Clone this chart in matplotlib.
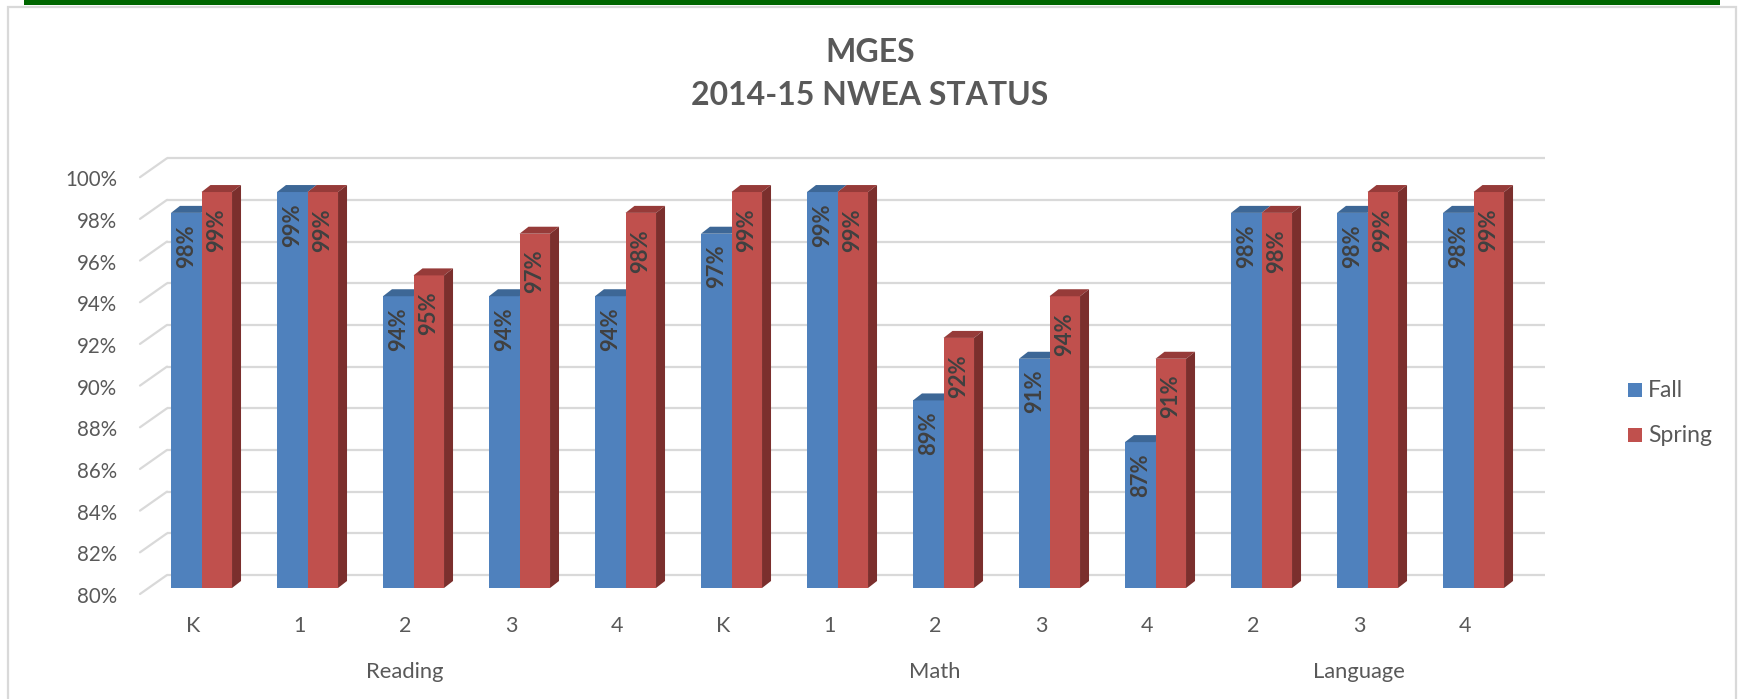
import matplotlib
matplotlib.use("Agg")
import matplotlib.pyplot as plt
from matplotlib import transforms
from matplotlib.patches import Rectangle, Polygon, ConnectionPatch

# ---------------- data ----------------
categories = ["K", "1", "2", "3", "4", "K", "1", "2", "3", "4", "2", "3", "4"]
groups = ["Reading", "Math", "Language"]
group_sizes = [5, 5, 3]
series_names = ["Fall", "Spring"]
fall = [98, 99, 94, 94, 94, 97, 99, 89, 91, 87, 98, 98, 98]
spring = [99, 99, 95, 97, 98, 99, 99, 92, 94, 91, 98, 99, 99]
yticks = [80, 82, 84, 86, 88, 90, 92, 94, 96, 98, 100]
ytick_labels = [f"{v}%" for v in yticks]
title_lines = ["MGES", "2014-15 NWEA STATUS"]

# ---------------- style ----------------
W, H, DPI = 1741, 699, 100
plt.rcParams["font.family"] = ["Lato", "DejaVu Sans"]
TXT = "#595959"
GRID = "#D9D9D9"
front_col = ["#4F81BD", "#C0504D"]
top_col = ["#3D6796", "#963B39"]
side_col = ["#30527A", "#7B2F2D"]

fig = plt.figure(figsize=(W / DPI, H / DPI), dpi=DPI)
fig.patch.set_facecolor("white")

def fy(ytop):
    return (H - ytop) / H

fig.add_artist(Rectangle((24 / W, fy(5)), (1720 - 24) / W, 5 / H,
                         transform=fig.transFigure, facecolor="#006600",
                         edgecolor="none", zorder=0))
fig.add_artist(Rectangle((8 / W, fy(710)), (1736 - 8) / W, (710 - 7) / H,
                         transform=fig.transFigure, facecolor="none",
                         edgecolor=GRID, lw=1.6, zorder=0))

# bar plane axes
ax = fig.add_axes([148.5 / W, fy(588), (1526.5 - 148.5) / W, (588 - 171.2) / H])
ax.set_xlim(-0.5, len(categories) - 0.5)
ax.set_ylim(80, 100)
ax.axis("off")

def shift(dx, dy):
    return transforms.ScaledTranslation(dx / DPI, dy / DPI, fig.dpi_scale_trans)

back = ax.transData + shift(18.5, 13)
front = ax.transData + shift(-8.5, -6)

# back wall gridlines + left wall diagonals
x_left, x_right = -0.5, len(categories) - 0.5
for v in yticks:
    ax.plot([x_left, x_right], [v, v], transform=back, color=GRID, lw=1.6,
            clip_on=False, zorder=1, solid_capstyle="butt")
    cp = ConnectionPatch(xyA=(x_left, v), coordsA=front, xyB=(x_left, v),
                         coordsB=back, color=GRID, lw=1.6, zorder=1)
    ax.add_artist(cp)

# y tick labels (front-left edge)
ylab_tr = ax.transData + shift(-8.5 - 23, -6 - 9)
for v, lab in zip(yticks, ytick_labels):
    ax.text(x_left, v, lab, transform=ylab_tr, ha="right", va="baseline",
            fontsize=14.8, color=TXT, clip_on=False)

# bars
x = list(range(len(categories)))
bw = 0.288
DX, DY = 9, 7
series = [fall, spring]
offsets = [-bw, 0.0]
label_gap = [11, 16]
ident = transforms.IdentityTransform()
for s, vals in enumerate(series):
    xs = [xi + offsets[s] for xi in x]
    ax.bar(xs, [v - 80 for v in vals], width=bw, bottom=80, align="edge",
           color=front_col[s], edgecolor="none", zorder=2 + s * 0.2, clip_on=False)
    for xi, v in zip(xs, vals):
        (x0, yt), (x1, _), (_, yb) = ax.transData.transform(
            [(xi, v), (xi + bw, v), (xi + bw, 80)])
        topface = Polygon([(x0, yt), (x1, yt), (x1 + DX, yt + DY), (x0 + DX, yt + DY)],
                          closed=True, transform=ident, facecolor=top_col[s],
                          edgecolor="none", zorder=2.1 + s * 0.2, clip_on=False)
        ax.add_patch(topface)
        if s == 1:
            sideface = Polygon([(x1, yt), (x1, yb), (x1 + DX, yb + DY), (x1 + DX, yt + DY)],
                               closed=True, transform=ident, facecolor=side_col[s],
                               edgecolor="none", zorder=2.1 + s * 0.2, clip_on=False)
            ax.add_patch(sideface)
        ax.text(xi + bw / 2, v, f"{v}%", rotation=90, ha="center", va="top",
                transform=ax.transData + shift(0, -label_gap[s]),
                fontsize=15.8, fontweight="bold", color="#404040", zorder=3,
                clip_on=False)

# category labels
cat_tr = transforms.blended_transform_factory(ax.transData, fig.transFigure) + shift(-8.5, 0)
for xi, c in zip(x, categories):
    ax.text(xi, fy(632), c, transform=cat_tr, ha="center", va="baseline",
            fontsize=15.5, color=TXT, clip_on=False)

# group labels
start = 0
for g, n in zip(groups, group_sizes):
    center = start + (n - 1) / 2
    ax.text(center, fy(678), g, transform=cat_tr, ha="center", va="baseline",
            fontsize=15.8, color=TXT, clip_on=False)
    start += n

# title
fig.text(870 / W, fy(62), title_lines[0], ha="center", va="baseline",
         fontsize=23, fontweight="bold", color=TXT)
fig.text(870 / W, fy(105), title_lines[1], ha="center", va="baseline",
         fontsize=23, fontweight="bold", color=TXT)

# legend
leg_y = [383, 428]
for name, col, yt in zip(series_names, front_col, leg_y):
    fig.add_artist(Rectangle((1628 / W, fy(yt + 14)), 14 / W, 14 / H,
                             transform=fig.transFigure, facecolor=col,
                             edgecolor="none"))
    fig.text(1648 / W, fy(yt + 14), name, ha="left", va="baseline",
             fontsize=16.5, color=TXT)

fig.savefig("out.png", dpi=DPI, facecolor="white")
